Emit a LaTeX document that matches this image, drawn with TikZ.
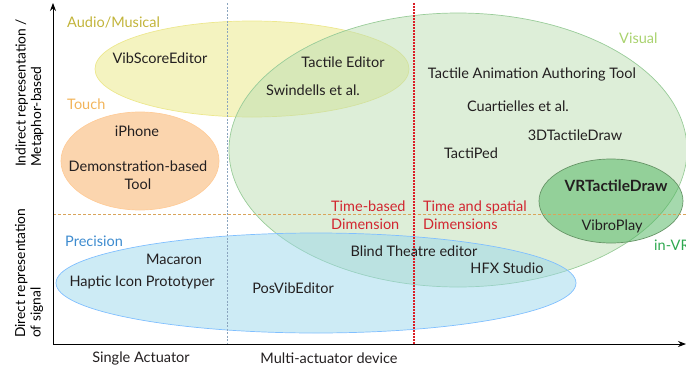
\documentclass[tikz,border=0pt]{standalone}
\usepackage{fontspec}
\setmainfont{Lato}
\usetikzlibrary{positioning}
\usetikzlibrary{arrows.meta}

\definecolor{txtgray}{HTML}{231F20}
\definecolor{audiocol}{HTML}{C2B43A}
\definecolor{touchcol}{HTML}{F2B45A}
\definecolor{visualcol}{HTML}{A9D26E}
\definecolor{precisioncol}{HTML}{3D8BCF}
\definecolor{vrcol}{HTML}{2EA84F}
\definecolor{dimred}{HTML}{D22630}

\begin{document}
\begin{tikzpicture}[
x=1pt,y=-1pt,
region/.style={
	% The border:
	line width=0.7pt,
	% The filling:
	fill opacity=0.5},
tool/.style={
	% The text:
	text=txtgray,
	font=\fontsize{14.5}{18}\selectfont,
	inner sep=0pt},
category/.style={
	font=\fontsize{14.5}{18}\selectfont,
	inner sep=0pt, anchor=west},
axislabel/.style={
	font=\fontsize{13.8}{15.5}\selectfont,
	rotate=90, align=left, anchor=west, inner sep=0pt},
]
\useasboundingbox (0,0) rectangle (686,370);

% regions
\draw[region, draw=yellow!60!olive!40, fill={rgb,255:red,233;green,231;blue,129}] (252,69) ellipse [x radius=157, y radius=48];
\draw[region, draw=orange!40, fill={rgb,255:red,247;green,171;blue,93}] (140,161) ellipse [x radius=79, y radius=49];
\draw[region, draw=green!50!black!40, fill={rgb,255:red,187;green,221;blue,177}] (458,150) ellipse [x radius=229, y radius=137];
\draw[region, draw=blue!50!cyan!50, fill={rgb,255:red,155;green,215;blue,235}] (316,283) ellipse [x radius=260, y radius=50];
\draw[region, draw=green!30!black!60, fill={rgb,255:red,75;green,180;blue,92}] (611,201) ellipse [x radius=72, y radius=42];

% separators
\coordinate (origin) at (53,344);
\draw[draw={rgb,255:red,138;green,164;blue,190}, line width=0.6pt, dash pattern=on 2pt off 1.5pt] (227,3) -- (227,344);
\draw[draw={rgb,255:red,217;green,164;blue,90}, line width=0.6pt, dash pattern=on 3pt off 2pt] (53,214) -- (686,214);
\draw[draw=dimred!80!red, line width=1.6pt, dash pattern=on 2.2pt off 0.8pt] (414,3) -- (414,344);

% axes
\coordinate (ytop) at (53,3);
\coordinate (xend) at (686,344);
\draw[-{Stealth[length=8pt,width=6pt]}, line width=0.8pt] (origin) -- (ytop);
\draw[-{Stealth[length=8pt,width=6pt]}, line width=0.8pt] (origin) -- (xend);

% axis labels
\node (indirect) [axislabel] at (29.5,167) {Indirect representation /\\Metaphor-based};
\node (direct) [axislabel] at (29,338) {Direct representation\\of signal};
\node (single) [tool] at (141,358) {Single Actuator};
\node (multi) [tool] at (329,358) {Multi-actuator device};

% categories
\node (audio) [category, text=audiocol] at (67,22) {Audio/Musical};
\node (touch) [category, text=touchcol] at (67,104) {Touch};
\node (visual) [category, text=visualcol] at (619,38) {Visual};
\node (precision) [category, text=precisioncol] at (65,241) {Precision};
\node (invr) [category, text=vrcol] at (654,245) {in-VR};
\node (timebased) [category, text=dimred, align=left] at (331,215) {Time-based\\Dimension};
\node (timespatial) [category, text=dimred, align=left] at (423,215) {Time and spatial\\Dimensions};

% tools
\node (vibscore) [tool] at (160,58) {VibScoreEditor};
\node (tactileeditor) [tool] at (343,62) {Tactile Editor};
\node (swindells) [tool] at (313,90) {Swindells et al.};
\node (iphone) [tool] at (137,131) {iPhone};
\node (demo) [tool, align=center] at (138,175) {Demonstration-based\\Tool};
\node (animation) [tool] at (532,74) {Tactile Animation Authoring Tool};
\node (cuartielles) [tool] at (518,106) {Cuartielles et al.};
\node (tactiledraw3d) [tool] at (575,135) {3DTactileDraw};
\node (tactiped) [tool] at (471,153) {TactiPed};
\node (vrtactiledraw) [tool, font=\fontsize{15.5}{18}\selectfont\bfseries] at (616,186) {VRTactileDraw};
\node (vibroplay) [tool] at (612,226) {VibroPlay};
\node (blind) [tool] at (414,251) {Blind Theatre editor};
\node (hfx) [tool] at (507,268) {HFX Studio};
\node (macaron) [tool] at (174,259) {Macaron};
\node (hapticicon) [tool] at (142,282) {Haptic Icon Prototyper};
\node (posvib) [tool] at (293,288) {PosVibEditor};
\end{tikzpicture}
\end{document}
